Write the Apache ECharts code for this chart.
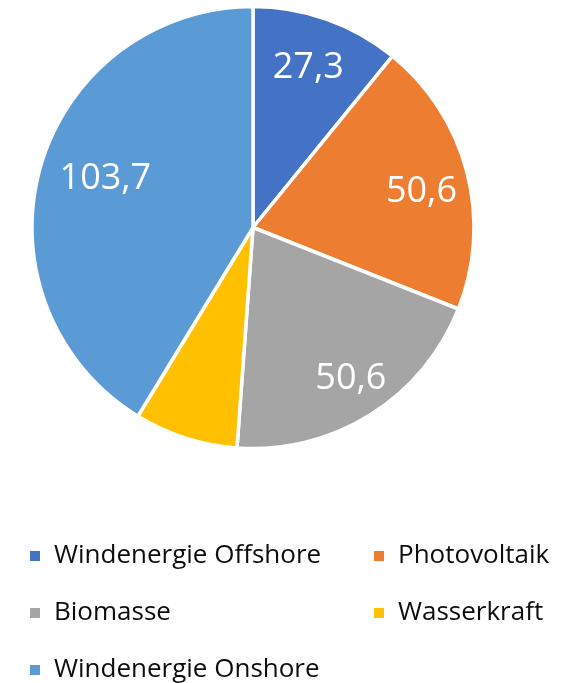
<!DOCTYPE html>
<html>
<head>
<meta charset="utf-8">
<script src="https://cdn.jsdelivr.net/npm/echarts@6/dist/echarts.min.js"></script>
<style>html,body{margin:0;padding:0;background:#fff}#c{width:564px;height:683px}</style>
</head>
<body>
<div id="c"></div>
<script>
const categories = ['Windenergie Offshore', 'Photovoltaik', 'Biomasse', 'Wasserkraft', 'Windenergie Onshore'];
const values = [27.3, 50.6, 50.6, 19.0, 103.7];
const showLabel = [true, true, true, false, true];
const colors = ['#4472C4', '#ED7D31', '#A5A5A5', '#FFC000', '#5B9BD5'];
const legendCol1 = ['Windenergie Offshore', 'Biomasse', 'Windenergie Onshore'];
const legendCol2 = ['Photovoltaik', 'Wasserkraft'];

const FONT = '"Open Sans", sans-serif';
const center = [253, 227.5];
const R = 221;
// small label nudges (Excel best-fit placement)
const labelNudge = [[-2, 1], [3, 7], [7, 6], [0, 0], [17, -2]];

const pieData = categories.map((n, i) => ({ name: n, value: values[i], itemStyle: { color: colors[i] } }));
const labelData = categories.map((n, i) => ({ name: n, value: values[i], label: { show: showLabel[i], offset: labelNudge[i] } }));

const legendBase = {
  orient: 'vertical',
  padding: 0,
  itemWidth: 12,
  itemHeight: 12,
  itemGap: 29,
  icon: 'rect',
  selectedMode: false,
  textStyle: { fontFamily: FONT, fontSize: 26, color: '#0d0d0d', lineHeight: 28, padding: [0, 0, 0, 8] }
};

const chart = echarts.init(document.getElementById('c'), null, { renderer: 'canvas' });
chart.setOption({
  animation: false,
  legend: [
    Object.assign({}, legendBase, { data: legendCol1, left: 28, top: 542, height: 160 }),
    Object.assign({}, legendBase, { data: legendCol2, left: 372, top: 542, height: 160 })
  ],
  series: [
    {
      type: 'pie',
      center: center,
      radius: [0, R],
      startAngle: 90,
      clockwise: true,
      silent: true,
      label: { show: false },
      labelLine: { show: false },
      itemStyle: { borderColor: '#fff', borderWidth: 3.5 },
      data: pieData
    },
    {
      type: 'pie',
      center: center,
      radius: [115, R],
      startAngle: 90,
      clockwise: true,
      silent: true,
      itemStyle: { color: 'rgba(0,0,0,0)', borderWidth: 0 },
      labelLine: { show: false },
      label: {
        show: true,
        position: 'inside',
        fontFamily: FONT,
        fontSize: 36,
        color: '#fff',
        formatter: p => String(p.value).replace('.', ',')
      },
      data: labelData
    }
  ]
});
</script>
</body>
</html>
